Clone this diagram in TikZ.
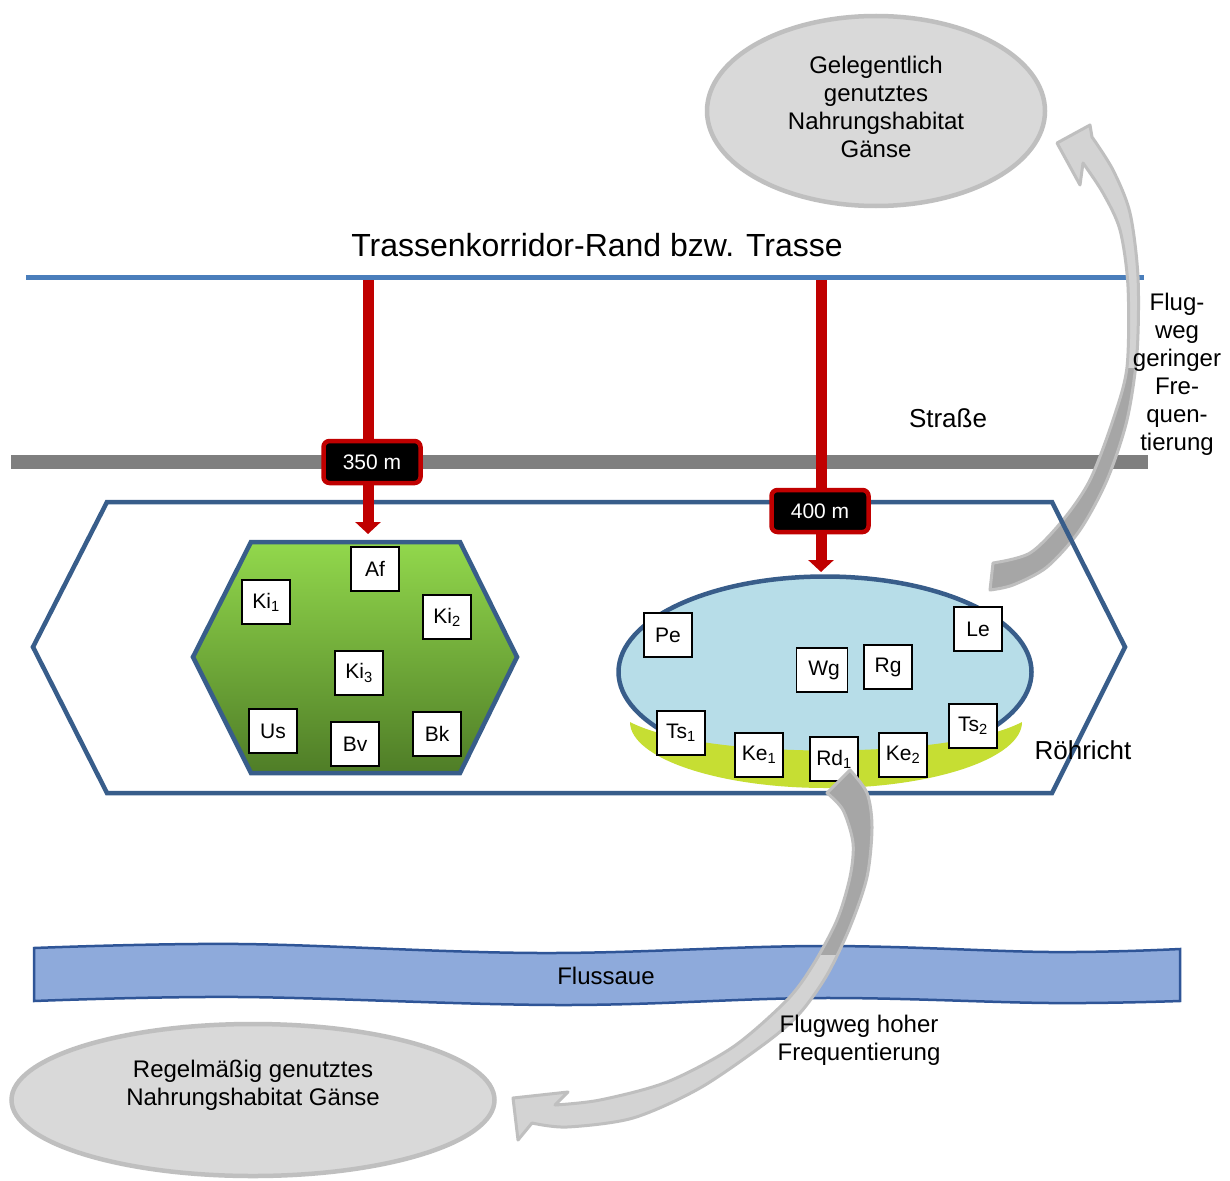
\documentclass[tikz,border=0pt]{standalone}
\usepackage{fontspec}
\setmainfont{Liberation Sans}
\usetikzlibrary{arrows.meta,shapes.geometric}

\definecolor{trasseblue}{HTML}{4A7EBB}
\definecolor{outlineblue}{HTML}{385D8A}
\definecolor{roadgray}{HTML}{7F7F7F}
\definecolor{markred}{HTML}{C00000}
\definecolor{habitatfill}{HTML}{D9D9D9}
\definecolor{habitatline}{HTML}{BFBFBF}
\definecolor{waterfill}{HTML}{B7DDE8}
\definecolor{reedgreen}{HTML}{C6DE33}
\definecolor{riverfill}{HTML}{8EAADB}
\definecolor{riverline}{HTML}{2F5597}
\definecolor{woodtop}{HTML}{92D84C}
\definecolor{woodbottom}{HTML}{4F7D27}
\definecolor{flightlight}{HTML}{D3D3D3}
\definecolor{flightdark}{HTML}{A6A6A6}

% outline of the curved flight arrow towards the occasional feeding habitat
\newcommand\flightuppath{plot[smooth] coordinates {(990,590) (1013,585) (1047,567) (1080,530) (1107,480) (1127,420) (1137,353) (1138,277) (1130,213) (1113,170) (1092,137)} -- (1090,125) -- (1057,143) -- (1080,185) -- (1083,163) -- plot[smooth] coordinates {(1083,163) (1103,193) (1120,230) (1128,287) (1127,367) (1113,420) (1090,480) (1063,520) (1030,553) (993,563)} -- cycle}

% outline of the curved flight arrow towards the regular feeding habitat
\newcommand\flightdownpath{plot[smooth] coordinates {(850,770) (867,793) (872,827) (867,877) (850,927) (827,975) (800,1013) (767,1042) (700,1088) (633,1118) (567,1127) (532,1123)} -- (518,1140) -- (513,1098) -- (568,1092) -- (555,1105) -- plot[smooth] coordinates {(555,1105) (600,1100) (667,1082) (733,1047) (787,1000) (813,965) (837,920) (850,877) (853,843) (843,810) (827,793)} -- cycle}

\begin{document}
\begin{tikzpicture}[x=1pt,y=-1pt,
  lbl/.style={font=\fontsize{24}{28}\selectfont, align=center, inner sep=0pt},
  biglbl/.style={font=\fontsize{26}{30}\selectfont, inner sep=0pt},
  habitat/.style={ellipse, draw=habitatline, line width=4.5pt, fill=habitatfill, inner sep=0pt},
  spbox/.style={draw=black, line width=1.2pt, fill=white, minimum width=48pt, minimum height=44pt, inner sep=0pt, font=\fontsize{21}{24}\selectfont},
  distbox/.style={draw=markred, line width=4.5pt, fill=black, rounded corners=6pt, minimum width=97pt, minimum height=42pt, inner sep=0pt, text=white, font=\fontsize{21}{24}\selectfont},
  redarrow/.style={draw=markred, line width=11pt, -{Triangle[width=25pt,length=12pt]}},
  outline/.style={draw=outlineblue, line width=4.5pt, line join=miter},
  flightrim/.style={draw=habitatline, line width=3pt, line join=round},
]
\useasboundingbox[fill=white] (0,0) rectangle (1230,1180);

% occasional feeding habitat
\node[habitat, minimum width=338pt, minimum height=190pt] (gelegentlich) at (876,111) {};
\node[lbl] (gelegentlichtxt) at (876,107) {Gelegentlich\\genutztes\\Nahrungshabitat\\Gänse};

% corridor edge
\node[font=\fontsize{32}{36}\selectfont, inner sep=0pt] (trassetxt) at (597,245) {Trassenkorridor-Rand bzw. Trasse};
\coordinate (trasseL) at (26,277);
\coordinate (trasseR) at (1144,277);
\draw[trasseblue, line width=5pt] (trasseL) -- (trasseR);

% road
\coordinate (roadL) at (11,462);
\coordinate (roadR) at (1148,462);
\draw[roadgray, line width=14pt] (roadL) -- (roadR);
\node[biglbl] (strasse) at (948,418) {Straße};

% flight path of low frequency
\begin{scope}
  \path[clip] \flightuppath;
  \fill[flightlight] (950,100) rectangle (1200,368);
  \fill[flightdark] (950,368) rectangle (1200,620);
\end{scope}
\draw[flightrim] \flightuppath;
\node[lbl] (geringtxt) at (1177,374) {Flug-\\weg\\geringer\\Fre-\\quen-\\tierung};

% wetland complex
\draw[outline] (33,647) -- (107,502) -- (1052,502) -- (1125,647) -- (1052,793) -- (107,793) -- cycle;

% distance markers
\coordinate (t1) at (368,280);
\coordinate (woodtop) at (368,534);
\coordinate (t2) at (821,280);
\coordinate (watertop) at (821,572);
\draw[redarrow] (t1) -- (woodtop);
\draw[redarrow] (t2) -- (watertop);
\node[distbox] (d350) at (372,462) {350 m};
\node[distbox] (d400) at (820,511) {400 m};

% woodland
\draw[outline, top color=woodtop, bottom color=woodbottom] (193,657) -- (251,542) -- (460,542) -- (517,657) -- (460,773) -- (251,773) -- cycle;
\node[spbox] (af) at (375,569) {Af};
\node[spbox] (ki1) at (266,602) {Ki\textsubscript{1}};
\node[spbox] (ki2) at (447,617) {Ki\textsubscript{2}};
\node[spbox] (ki3) at (359,673) {Ki\textsubscript{3}};
\node[spbox] (us) at (273,731) {Us};
\node[spbox] (bv) at (355,744) {Bv};
\node[spbox] (bk) at (437,734) {Bk};

% water body with reed belt
\node[ellipse, draw=outlineblue, line width=4.5pt, fill=waterfill, inner sep=0pt, minimum width=413pt, minimum height=191pt] (water) at (825,672) {};
\fill[reedgreen] (630,722) .. controls (630,758) and (718,788) .. (826,788) .. controls (934,788) and (1022,758) .. (1022,722) .. controls (950,760) and (702,760) .. (630,722) -- cycle;
\node[biglbl] (roehricht) at (1083,750) {Röhricht};

\node[spbox] (pe) at (668,635) {Pe};
\node[spbox] (le) at (978,629) {Le};
\node[spbox, minimum width=51pt] (wg) at (822,670) {\hspace{4pt}Wg};
\node[spbox] (rg) at (888,667) {Rg};
\node[spbox] (ts1) at (681,733) {Ts\textsubscript{1}};
\node[spbox] (ke1) at (759,755) {Ke\textsubscript{1}};
\node[spbox] (rd1) at (834,759) {Rd\textsubscript{1}};
\node[spbox] (ke2) at (903,755) {Ke\textsubscript{2}};
\node[spbox] (ts2) at (973,726) {Ts\textsubscript{2}};

% floodplain
\draw[draw=riverline, line width=2.5pt, fill=riverfill] plot[smooth, tension=0.6] coordinates {(34,948) (240,944) (540,953) (820,946) (1050,952) (1180,949)} -- plot[smooth, tension=0.6] coordinates {(1180,1001) (1050,1003) (820,998) (560,1005) (240,997) (34,1001)} -- cycle;
\node[lbl] (flussaue) at (606,976) {Flussaue};

% regular feeding habitat
\node[habitat, minimum width=483pt, minimum height=152pt] (regelmaessig) at (253,1100) {};
\node[lbl] (regeltxt) at (253,1085) {Regelmäßig genutztes\\Nahrungshabitat Gänse};

% flight path of high frequency
\begin{scope}
  \path[clip] \flightdownpath;
  \fill[flightdark] (480,740) rectangle (900,955);
  \fill[flightlight] (480,955) rectangle (900,1160);
\end{scope}
\draw[flightrim] \flightdownpath;
\node[lbl] (hochtxt) at (859,1040) {Flugweg hoher\\Frequentierung};

\end{tikzpicture}
\end{document}
